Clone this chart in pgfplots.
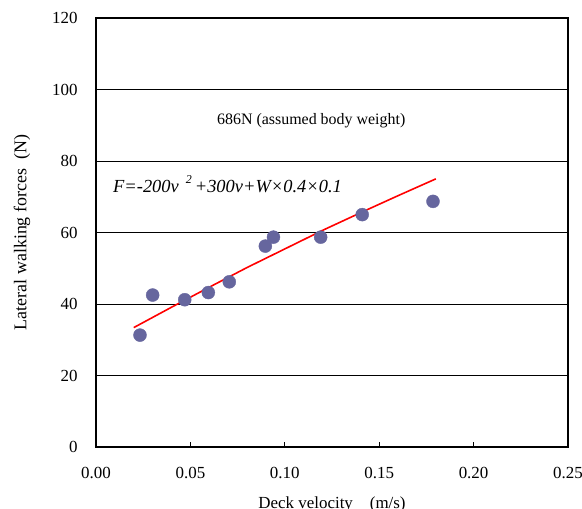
\documentclass[border=0pt]{standalone}
\usepackage{pgfplots}
\pgfplotsset{compat=1.18}
\usepackage{fontspec}
\setmainfont{Liberation Serif}
\usetikzlibrary{calc}

\definecolor{ptcol}{RGB}{102,102,158}

\begin{document}
\begin{tikzpicture}
\begin{axis}[
  name=ax,
  scale only axis,
  width=472bp, height=429bp,
  xmin=0, xmax=0.25,
  ymin=0, ymax=120,
  xtick={0,0.05,...,0.25},
  ytick={0,20,...,120},
  xticklabel style={/pgf/number format/fixed, /pgf/number format/fixed zerofill,
    /pgf/number format/precision=2, yshift=-17bp},
  /pgf/number format/assume math mode=true,
  tick label style={font=\fontsize{17}{19}\selectfont},
  tick align=inside,
  xtick pos=bottom, ytick pos=left,
  major tick length=5bp,
  tick style={black, line width=1pt},
  axis line style={black, line width=1.5pt},
  ymajorgrids,
  grid style={black, line width=0.6pt},
  xlabel={Deck velocity\quad(m/s)},
  ylabel={Lateral walking forces\ \ (N)},
  xlabel style={font=\fontsize{17}{19}\selectfont, at={(rel axis cs:0.5,0)}, anchor=north, yshift=-46bp},
  ylabel style={font=\fontsize{18}{20}\selectfont, yshift=15bp},
  yticklabel style={xshift=-15bp},
  clip=false,
]
% measured points
\addplot[only marks, mark=*, mark size=6.5bp, mark options={fill=ptcol, draw=ptcol}]
coordinates {
  (0.0233,31.3) (0.0300,42.5) (0.0470,41.2) (0.0595,43.2) (0.0706,46.2)
  (0.0897,56.2) (0.0940,58.7) (0.1190,58.7) (0.1410,65.0) (0.1785,68.7)
};
% fitted curve
\addplot[red, line width=1.6pt]
coordinates {
  (0.020,33.4) (0.040,39.1) (0.060,44.7) (0.080,50.2) (0.100,55.4)
  (0.120,60.6) (0.140,65.5) (0.160,70.3) (0.180,75.0)
};
\node[font=\fontsize{16}{18}\selectfont, anchor=base] at (axis cs:0.1140,90.3) {686N (assumed body weight)};
\node[font=\fontsize{18.5}{20}\selectfont\itshape, anchor=base west, inner sep=0pt] at (axis cs:0.0090,71.1)
  {F=-200v\hspace{7bp}\raisebox{0.5em}{\fontsize{12}{14}\selectfont 2}\hspace{3bp}+300v+W×0.4×0.1};
\end{axis}
\pgfresetboundingbox
\path ($(ax.south west)+(-96bp,-62bp)$) rectangle ($(ax.north east)+(14bp,18bp)$);
\end{tikzpicture}
\end{document}
